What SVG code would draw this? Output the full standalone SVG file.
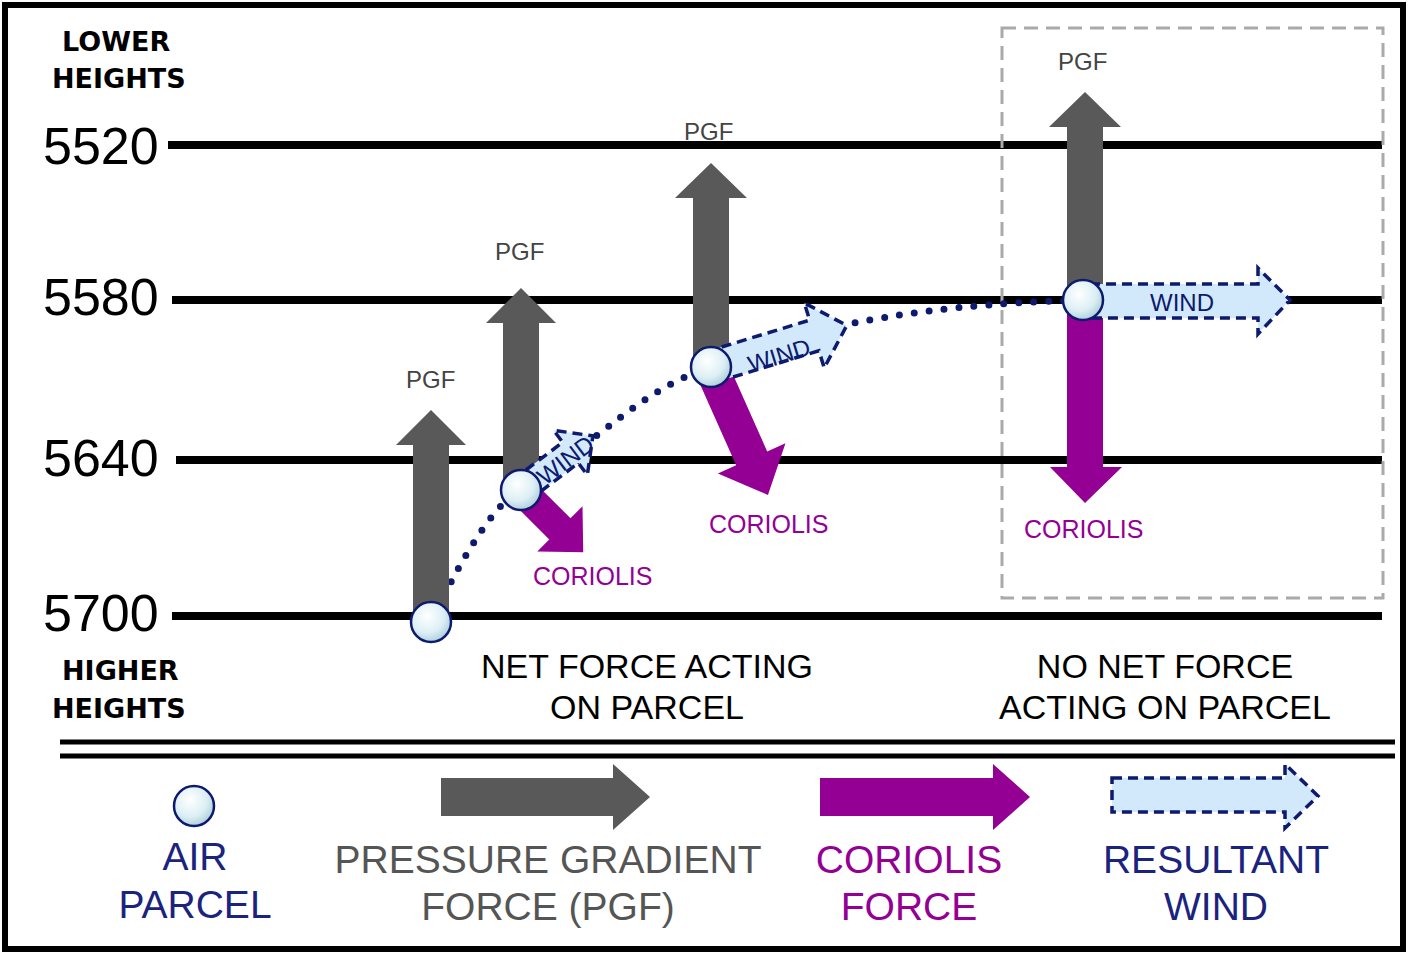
<svg xmlns="http://www.w3.org/2000/svg" width="1410" height="956" viewBox="0 0 1410 956">
<defs>
<radialGradient id="pg" cx="0.4" cy="0.35" r="0.7"><stop offset="0" stop-color="#ffffff"/><stop offset="0.6" stop-color="#dceff5"/><stop offset="1" stop-color="#a9cbd8"/></radialGradient>
<style>
.h{stroke:#000;stroke-width:8}
.num{font-family:"Liberation Sans",sans-serif;font-size:52px;fill:#000}
.bh{font-family:"DejaVu Sans",sans-serif;font-weight:bold;font-size:27px;fill:#000}
.pgf{fill:#595959}
.cor{fill:#930093}
.wind{fill:#d2e9fb;stroke:#0d1a6e;stroke-width:3.5;stroke-dasharray:10 6}
.par{fill:url(#pg);stroke:#0d1a6e;stroke-width:2.5}
.sl{font-family:"Liberation Sans",sans-serif;font-size:24px;fill:#444}
.cl{font-family:"Liberation Sans",sans-serif;font-size:25px;fill:#930093}
.wl{font-family:"Liberation Sans",sans-serif;font-size:24px;fill:#0d1a6e}
.mid{font-family:"Liberation Sans",sans-serif;font-size:34px;fill:#000}
.lg{font-family:"Liberation Sans",sans-serif;font-size:39px}
</style>
</defs>
<rect x="0" y="0" width="1410" height="956" fill="#fff"/>
<rect x="5" y="5" width="1398" height="944" fill="none" stroke="#000" stroke-width="6"/>
<g id="grid">
<line class="h" x1="168" y1="145" x2="1382" y2="145"/>
<line class="h" x1="172" y1="300" x2="1382" y2="300"/>
<line class="h" x1="176" y1="460" x2="1382" y2="460"/>
<line class="h" x1="172" y1="616" x2="1382" y2="616"/>
<text class="num" x="43" y="164">5520</text>
<text class="num" x="43" y="315">5580</text>
<text class="num" x="43" y="476">5640</text>
<text class="num" x="43" y="631">5700</text>
<text class="bh" x="62" y="51">LOWER</text>
<text class="bh" x="52" y="88">HEIGHTS</text>
<text class="bh" x="62" y="680">HIGHER</text>
<text class="bh" x="52" y="718">HEIGHTS</text>
<rect x="1002" y="28" width="381" height="570" fill="none" stroke="#aaa" stroke-width="3" stroke-dasharray="14 8"/>
<line x1="60" y1="742" x2="1395" y2="742" stroke="#000" stroke-width="5"/>
<line x1="60" y1="756" x2="1395" y2="756" stroke="#000" stroke-width="5"/>
</g>
<g id="connectors">
<path d="M431,622 C470,540 500,500 521,490 C600,440 640,390 711,367 C800,330 900,305 1085,300" fill="none" stroke="#0d1a6e" stroke-width="7" stroke-linecap="round" stroke-dasharray="0 15"/>
</g>
<g id="pgf1"><polygon class="pgf" points="413,615 413,445 396,445 431,410 466,445 449,445 449,615"/><text class="sl" x="406" y="388">PGF</text></g>
<g id="pgf2"><polygon class="pgf" points="503,490 503,323 486,323 521,288 556,323 539,323 539,490"/><text class="sl" x="495" y="260">PGF</text></g>
<g id="pgf3"><polygon class="pgf" points="693,367 693,198 675,198 711,163 747,198 729,198 729,367"/><text class="sl" x="684" y="140">PGF</text></g>
<g id="pgf4"><polygon class="pgf" points="1067,300 1067,127 1049,127 1085,92 1121,127 1103,127 1103,300"/><text class="sl" x="1058" y="70">PGF</text></g>
<g id="cor2"><polygon class="cor" transform="translate(521,490) rotate(-45)" points="-15,0 15,0 15,55 32,55 0,88 -32,55 -15,55"/><text class="cl" x="533" y="585">CORIOLIS</text></g>
<g id="cor3"><polygon class="cor" transform="translate(711,367) rotate(-24)" points="-17,0 17,0 17,100 37,100 0,140 -37,100 -17,100"/><text class="cl" x="709" y="533">CORIOLIS</text></g>
<g id="cor4"><polygon class="cor" points="1067,300 1103,300 1103,467 1122,467 1085,503 1050,467 1067,467"/><text class="cl" x="1024" y="538">CORIOLIS</text></g>
<g id="wind2"><polygon class="wind" transform="translate(521,490) rotate(-37)" points="0,-13 62,-13 62,-28 90,0 62,28 62,13 0,13"/><text class="wl" font-size="19" transform="translate(545,486) rotate(-37)">WIND</text></g>
<g id="wind3"><polygon class="wind" transform="translate(711,367) rotate(-17)" points="0,-16 108,-16 108,-34 142,0 108,34 108,16 0,16"/><text class="wl" transform="translate(751,373) rotate(-17)">WIND</text></g>
<g id="wind4"><polygon class="wind" points="1090,284 1258,284 1258,268 1290,300 1258,334 1258,318 1090,318"/><text class="wl" x="1150" y="311">WIND</text></g>
<g id="parcel1"><circle class="par" cx="431" cy="622" r="20"/></g>
<g id="parcel2"><circle class="par" cx="521" cy="490" r="20"/></g>
<g id="parcel3"><circle class="par" cx="711" cy="367" r="20"/></g>
<g id="parcel4"><circle class="par" cx="1083" cy="300" r="20"/></g>
<g id="labels">
<text class="mid" x="647" y="678" text-anchor="middle">NET FORCE ACTING</text>
<text class="mid" x="647" y="719" text-anchor="middle">ON PARCEL</text>
<text class="mid" x="1165" y="678" text-anchor="middle">NO NET FORCE</text>
<text class="mid" x="1165" y="719" text-anchor="middle">ACTING ON PARCEL</text>
</g>
<g id="legend">
<circle class="par" cx="194" cy="806" r="20"/>
<text class="lg" x="195" y="870" text-anchor="middle" fill="#1a237e">AIR</text>
<text class="lg" x="195" y="918" text-anchor="middle" fill="#1a237e">PARCEL</text>
<polygon class="pgf" points="441,778 613,778 613,764 650,797 613,830 613,816 441,816"/>
<text class="lg" x="548" y="873" text-anchor="middle" fill="#555">PRESSURE GRADIENT</text>
<text class="lg" x="548" y="920" text-anchor="middle" fill="#555">FORCE (PGF)</text>
<polygon class="cor" points="820,778 993,778 993,764 1030,797 993,830 993,816 820,816"/>
<text class="lg" x="909" y="873" text-anchor="middle" fill="#930093">CORIOLIS</text>
<text class="lg" x="909" y="920" text-anchor="middle" fill="#930093">FORCE</text>
<polygon class="wind" points="1112,778 1285,778 1285,764 1318,796 1285,828 1285,812 1112,812"/>
<text class="lg" x="1216" y="873" text-anchor="middle" fill="#1a237e">RESULTANT</text>
<text class="lg" x="1216" y="920" text-anchor="middle" fill="#1a237e">WIND</text>
</g>
</svg>
